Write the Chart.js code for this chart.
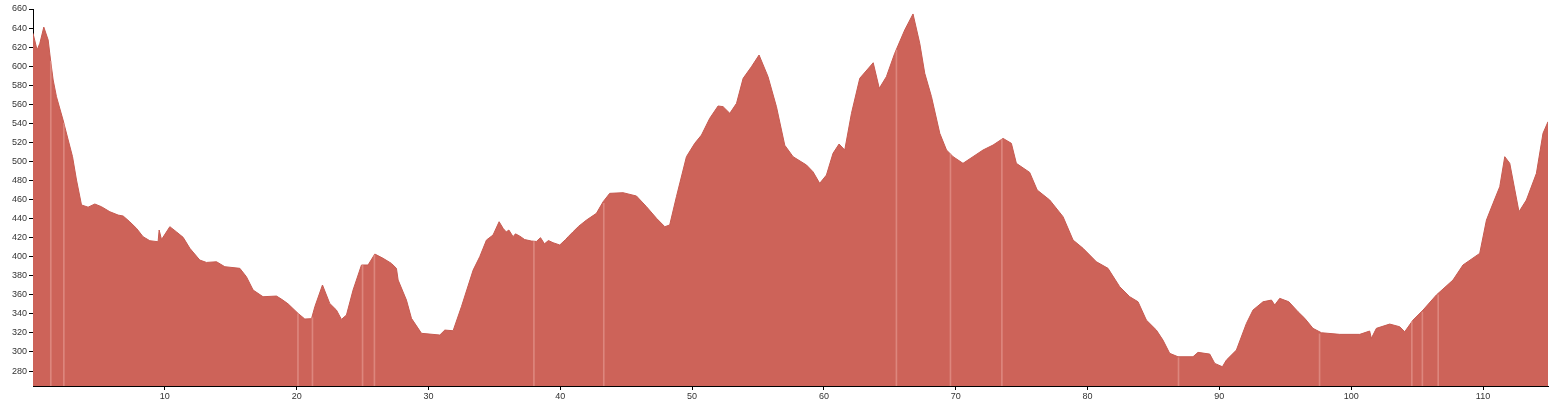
<!DOCTYPE html>
<html>
<head>
<meta charset="utf-8">
<style>
  html, body { margin: 0; padding: 0; background: #ffffff; }
  #wrap { width: 1550px; height: 404px; position: relative; }
  canvas { display: block; }
</style>
<script src="https://cdn.jsdelivr.net/npm/chart.js@4/dist/chart.umd.min.js"></script>
</head>
<body>
<div id="wrap"><canvas id="c" width="1550" height="404"></canvas></div>
<script>
// distance along route (km)
const distanceKm = [
  0, 0.31, 0.52, 0.82, 1.15, 1.33, 1.53, 1.78, 2.28, 2.67, 3.0, 3.3, 3.68, 4.18, 4.69, 5.19,
  5.83, 6.46, 6.84, 7.34, 7.85, 8.35, 8.86, 9.49, 9.57, 9.75, 10.38, 10.89, 11.39, 11.9, 12.65,
  13.16, 13.92, 14.55, 15.69, 16.19, 16.7, 17.45, 18.47, 18.9, 19.35, 20.11, 20.62, 21.13, 21.38,
  21.96, 22.51, 23.02, 23.4, 23.78, 24.28, 24.92, 25.42, 25.93, 26.56, 27.19, 27.57, 27.7, 28.33,
  28.71, 29.47, 30.86, 31.24, 31.87, 32.5, 33.39, 33.89, 34.4, 34.9, 35.36, 35.66, 35.9, 36.1,
  36.42, 36.6, 36.93, 37.3, 37.8, 38.19, 38.5, 38.8, 39.1, 39.45, 39.96, 40.4, 40.6, 40.97, 41.4,
  41.99, 42.74, 43.25, 43.75, 44.76, 45.78, 46.54, 47.3, 47.93,
  48.3, 48.81, 49.57, 50.2, 50.71, 51.34, 51.97, 52.35, 52.86, 53.37, 53.87, 54.5, 55.08, 55.76,
  56.4, 57.03, 57.66, 58.68, 59.17, 59.68, 60.19, 60.69, 61.15, 61.58, 62.09, 62.72, 63.74, 64.2,
  64.74, 65.37, 66.13, 66.76, 67.27, 67.65, 68.16, 68.79, 69.3, 69.8, 70.55, 71.31, 72.07, 72.83,
  73.59, 74.22, 74.6, 75.61, 76.18, 77.13, 78.14, 78.9, 79.66, 80.67, 81.55, 82.44, 83.2, 83.83,
  84.46, 85.22, 85.72, 86.23, 86.86, 88.0, 88.38, 89.27, 89.65, 90.23, 90.53, 91.29, 92.05, 92.55,
  93.31, 93.95, 94.2, 94.58, 95.27, 95.97, 96.48, 97.1, 97.74, 99.13, 100.65, 101.4, 101.53,
  101.91, 102.92, 103.68, 104.06, 104.69, 105.45, 106.46, 107.72, 108.48, 109.75, 110.26, 110.76,
  111.27, 111.65, 112.03, 112.73, 113.29, 114.05, 114.55, 114.93
];
// elevation (m)
const elevationM = [
  634.5, 617, 624, 641, 627.5, 606.5, 585.5, 568, 543.5, 522.5, 505, 480.5, 454.3, 452, 455.3, 452.5,
  447.2, 443.7, 442.7, 436.7, 429.8, 421, 416.8, 415.7, 428, 418, 431.5, 426, 420.3, 408.8, 396.5,
  394, 394.7, 389.5, 387.8, 379, 365, 358, 358.7, 355, 350.5, 340.5, 334.6, 335, 347.5,
  370.3, 351, 344, 334.2, 338.8, 365, 391.3, 391.3, 402.8, 398.3, 393, 387.8, 375.5, 354.5,
  335.3, 319.6, 317.8, 323, 322.3, 347.5, 386, 400, 417.5, 422.8, 436.7, 429.8, 426, 428,
  421, 424, 421.6, 418, 416.5, 416, 420, 413.5, 417, 414.7, 412.3, 418, 421, 426.2, 432,
  438.5, 445.5, 457.7, 466.5, 467.2, 463.7, 452.5, 440.3, 431.5,
  433.3, 463, 505, 519, 527.7, 545.3, 558.2, 557.5, 550.5, 561, 587.2, 599.4, 611.7, 589,
  557.4, 517, 505, 496.2, 489.2, 477, 485.7, 508.5, 518.3, 512, 550.5, 587.3, 603.6, 576.7,
  589, 613.5, 638, 654.8, 624, 592.5, 568, 529.5, 512, 505, 498, 505, 512, 517.2,
  524.2, 519, 498, 488.5, 470, 459.5, 442, 417.5, 408.8, 394.7, 387.8, 368.5, 358, 352.7,
  333.5, 323, 312.5, 298.6, 295, 295, 299.6, 297.8, 288, 284.5, 291.5, 302, 330, 344,
  352.7, 354.5, 349.3, 356.3, 352.7, 342.2, 335.3, 324.8, 320.2, 318.5, 318.5, 322, 314.3,
  324.8, 329.3, 326.5, 321.2, 333.5, 344, 359.8, 375.5, 391.3, 403.5, 438.5, 456,
  473.5, 505, 498, 447.2, 459.5, 487.5, 529.5, 541.7
];
// pale seam lines visible in the filled profile (km, elevation at the seam)
const seamKm = [1.35, 2.34, 20.1, 21.2, 25.0, 25.9, 38.0, 43.3, 65.5, 69.6, 73.5, 86.9, 97.6, 104.6, 105.4, 106.6];
const seamM  = [605, 540, 340, 336, 391, 402, 416, 456, 617, 508, 523, 294, 319, 332, 342, 360];

const yTicks = [280, 300, 320, 340, 360, 380, 400, 420, 440, 460, 480, 500, 520, 540, 560, 580, 600, 620, 640, 660];
const xTicks = [10, 20, 30, 40, 50, 60, 70, 80, 90, 100, 110];

const points = distanceKm.map((x, i) => ({ x: x, y: elevationM[i] }));
const seams = seamKm.map((x, i) => ({ x: x, y: seamM[i] }));

new Chart(document.getElementById('c'), {
  type: 'line',
  data: {
    datasets: [{
      type: 'line',
      order: 2,
      data: points,
      fill: 'start',
      backgroundColor: '#cd6359',
      borderColor: '#c65a50',
      borderWidth: 1,
      pointRadius: 0,
      tension: 0
    }, {
      type: 'bar',
      order: 1,
      data: seams,
      backgroundColor: 'rgba(238,170,162,0.5)',
      borderWidth: 0,
      barThickness: 1,
      base: 264.3
    }]
  },
  options: {
    responsive: false,
    animation: false,
    events: [],
    layout: { padding: { top: 9, right: 2, left: 0, bottom: 0 } },
    plugins: { legend: { display: false }, tooltip: { enabled: false } },
    scales: {
      x: {
        type: 'linear',
        min: 0,
        max: 114.93,
        offset: false,
        afterBuildTicks: (s) => { s.ticks = xTicks.map(v => ({ value: v })); },
        afterFit: (s) => { s.height = 18; },
        grid: { display: true, offset: false, drawOnChartArea: false, drawTicks: true, tickLength: 4, color: '#000', lineWidth: 1 },
        border: { display: true, color: '#000', width: 1 },
        ticks: { color: '#333', font: { family: 'Arial, "Liberation Sans", sans-serif', size: 9 }, padding: 1, maxRotation: 0, autoSkip: false }
      },
      y: {
        type: 'linear',
        min: 264.3,
        max: 660,
        afterBuildTicks: (s) => { s.ticks = yTicks.map(v => ({ value: v })); },
        afterFit: (s) => { s.width = 33; },
        grid: { display: true, drawOnChartArea: false, drawTicks: true, tickLength: 4, color: '#000', lineWidth: 1 },
        border: { display: true, color: '#000', width: 1 },
        ticks: { color: '#333', font: { family: 'Arial, "Liberation Sans", sans-serif', size: 9 }, padding: 2, autoSkip: false }
      }
    }
  }
});
</script>
</body>
</html>
